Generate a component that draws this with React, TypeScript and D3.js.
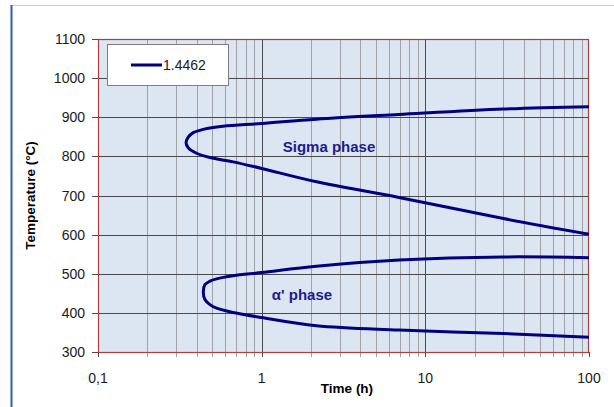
import React, { useEffect, useRef } from 'react';
import * as d3 from 'd3';

// phase boundaries, time (h) / temperature (°C), traced around the nose
const sigmaTime = [100, 30, 6.9, 2.16, 1, 0.58, 0.44, 0.38, 0.356, 0.345, 0.356, 0.4, 0.483, 0.67, 1, 2.16, 6.9, 30, 100];
const sigmaTemp = [927, 921, 907, 895, 884, 877, 869, 860, 849, 836, 822, 808, 797, 786, 769, 735, 695, 641, 601];
const alphaTime = [100, 30, 6.9, 2.16, 1, 0.67, 0.53, 0.483, 0.45, 0.44, 0.45, 0.483, 0.53, 0.67, 1, 2.16, 6.9, 30, 100];
const alphaTemp = [541, 543, 535, 519, 503, 495, 487, 481, 472, 454, 434, 421, 412, 401, 388, 367, 356, 347, 338];

const yTicks = [300, 400, 500, 600, 700, 800, 900, 1000, 1100];
const xTicks = [0.1, 1, 10, 100];
const xTickLabels = ['0,1', '1', '10', '100'];
const seriesName = '1.4462';

const drawChart = (node: SVGSVGElement) => {
  const width = 614;
  const height = 407;
  const plot = { left: 98, right: 589, top: 39, bottom: 352 };
  const font = '"Liberation Sans", Arial, sans-serif';

  const svg = d3.select(node).attr('width', width).attr('height', height);
  svg.selectAll('*').remove();

  // outer frame of the page
  svg.append('line')
    .attr('x1', 11).attr('x2', width).attr('y1', 5.5).attr('y2', 5.5)
    .attr('stroke', '#b9cde5').attr('stroke-width', 1);
  svg.append('line')
    .attr('x1', 11.5).attr('x2', 11.5).attr('y1', 5).attr('y2', height)
    .attr('stroke', '#2f5cb8').attr('stroke-width', 2);

  const x = d3.scaleLog().domain([0.1, 100]).range([plot.left, plot.right]);
  const y = d3.scaleLinear().domain([300, 1100]).range([plot.bottom, plot.top]);

  svg.append('rect')
    .attr('x', plot.left).attr('y', plot.top)
    .attr('width', plot.right - plot.left).attr('height', plot.bottom - plot.top)
    .attr('fill', '#dce6f2');

  // minor + major vertical grid
  const minor: number[] = [];
  [0.1, 1, 10].forEach(dec => {
    for (let k = 2; k <= 9; k++) minor.push(dec * k);
  });
  svg.append('g').selectAll('line')
    .data(minor)
    .enter()
    .append('line')
    .attr('x1', d => Math.round(x(d)) + 0.5).attr('x2', d => Math.round(x(d)) + 0.5)
    .attr('y1', plot.top).attr('y2', plot.bottom + 5)
    .attr('stroke', '#a2a2a2').attr('stroke-width', 1);
  svg.append('g').selectAll('line')
    .data(xTicks.slice(1, 3))
    .enter()
    .append('line')
    .attr('x1', d => Math.round(x(d)) + 0.5).attr('x2', d => Math.round(x(d)) + 0.5)
    .attr('y1', plot.top).attr('y2', plot.bottom + 5)
    .attr('stroke', '#4a4a4a').attr('stroke-width', 1);

  svg.append('g').selectAll('line')
    .data(yTicks.slice(1, -1))
    .enter()
    .append('line')
    .attr('x1', plot.left - 6).attr('x2', plot.right)
    .attr('y1', d => Math.round(y(d)) + 0.5).attr('y2', d => Math.round(y(d)) + 0.5)
    .attr('stroke', '#4a4a4a').attr('stroke-width', 1);

  // ticks at the plot edges
  svg.append('g').selectAll('line')
    .data([300, 1100])
    .enter()
    .append('line')
    .attr('x1', plot.left - 6).attr('x2', plot.left)
    .attr('y1', d => Math.round(y(d)) + 0.5).attr('y2', d => Math.round(y(d)) + 0.5)
    .attr('stroke', '#4a4a4a');
  svg.append('g').selectAll('line')
    .data([0.1, 100])
    .enter()
    .append('line')
    .attr('x1', d => Math.round(x(d)) + 0.5).attr('x2', d => Math.round(x(d)) + 0.5)
    .attr('y1', plot.bottom).attr('y2', plot.bottom + 5)
    .attr('stroke', '#4a4a4a');

  svg.append('rect')
    .attr('x', plot.left + 0.5).attr('y', plot.top + 0.5)
    .attr('width', plot.right - plot.left - 1).attr('height', plot.bottom - plot.top)
    .attr('fill', 'none').attr('stroke', '#a8403f').attr('stroke-width', 1.2);

  // tick labels
  svg.append('g').selectAll('text')
    .data(yTicks)
    .enter()
    .append('text')
    .attr('x', 85).attr('y', d => y(d) + 5)
    .attr('text-anchor', 'end')
    .style('font-family', font).style('font-size', '14px').attr('fill', '#1a1a1a')
    .text(d => d);
  svg.append('g').selectAll('text')
    .data(xTicks)
    .enter()
    .append('text')
    .attr('x', d => x(d)).attr('y', 383)
    .attr('text-anchor', 'middle')
    .style('font-family', font).style('font-size', '14px').attr('fill', '#1a1a1a')
    .text((d, i) => xTickLabels[i]);

  svg.append('text')
    .attr('transform', `translate(35,${(plot.top + plot.bottom) / 2}) rotate(-90)`)
    .attr('text-anchor', 'middle')
    .style('font-family', font).style('font-size', '13.5px').style('font-weight', 'bold')
    .text('Temperature (°C)');
  svg.append('text')
    .attr('x', 347).attr('y', 393)
    .attr('text-anchor', 'middle')
    .style('font-family', font).style('font-size', '13.5px').style('font-weight', 'bold')
    .text('Time (h)');

  // curves
  const line = d3.line<[number, number]>()
    .x(d => x(d[0]))
    .y(d => y(d[1]))
    .curve(d3.curveCatmullRom.alpha(0.5));
  const sigma = sigmaTime.map((t, i) => [t, sigmaTemp[i]] as [number, number]);
  const alpha = alphaTime.map((t, i) => [t, alphaTemp[i]] as [number, number]);
  [sigma, alpha].forEach(pts => {
    svg.append('path')
      .attr('d', line(pts))
      .attr('fill', 'none')
      .attr('stroke', '#000080')
      .attr('stroke-width', 3);
  });

  svg.append('text')
    .attr('x', 329).attr('y', 152)
    .attr('text-anchor', 'middle')
    .style('font-family', font).style('font-size', '15px').style('font-weight', 'bold')
    .attr('fill', '#1c1c8c')
    .text('Sigma phase');
  svg.append('text')
    .attr('x', 302).attr('y', 300)
    .attr('text-anchor', 'middle')
    .style('font-family', font).style('font-size', '15px').style('font-weight', 'bold')
    .attr('fill', '#1c1c8c')
    .text('α\' phase');

  // legend
  const legend = svg.append('g');
  legend.append('rect')
    .attr('x', 107.5).attr('y', 44.5).attr('width', 121).attr('height', 41)
    .attr('fill', '#ffffff').attr('stroke', '#7f7f7f');
  legend.append('line')
    .attr('x1', 131).attr('x2', 162).attr('y1', 65).attr('y2', 65)
    .attr('stroke', '#000080').attr('stroke-width', 3);
  legend.append('text')
    .attr('x', 163).attr('y', 70)
    .style('font-family', font).style('font-size', '14px').attr('fill', '#1a1a1a')
    .text(seriesName);
};

export default function App() {
  const ref = useRef<SVGSVGElement>(null);

  useEffect(() => {
    if (ref.current) drawChart(ref.current);
  }, []);

  return (
    <svg ref={ref} style={{ position: 'absolute', left: 0, top: 0, background: '#ffffff' }} />
  );
}
